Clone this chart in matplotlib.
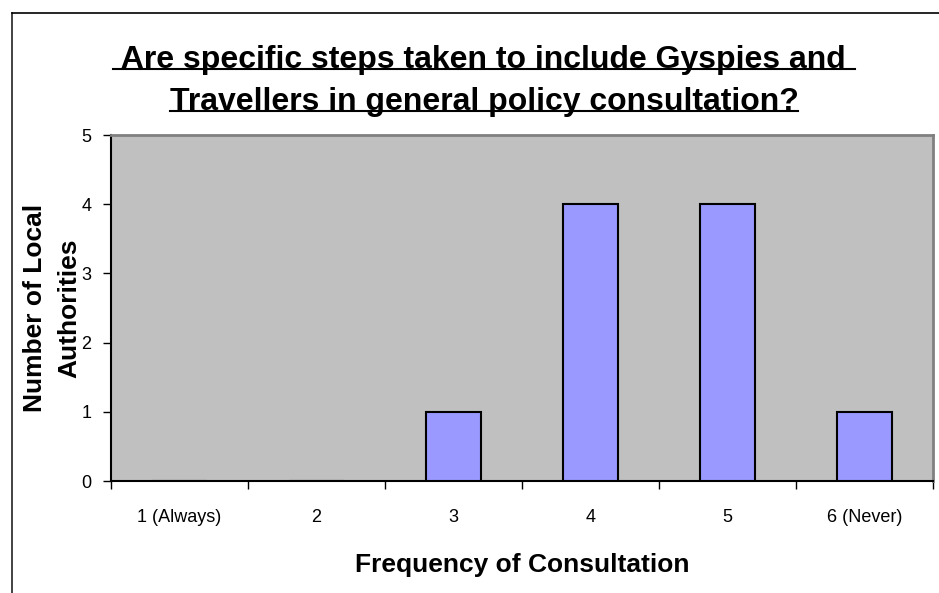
import matplotlib
matplotlib.use('Agg')
import matplotlib.pyplot as plt
from matplotlib.lines import Line2D

# Data
categories = ['1 (Always)', '2', '3', '4', '5', '6 (Never)']
counts = [0, 0, 1, 4, 4, 1]
y_ticks = [0, 1, 2, 3, 4, 5]
title_lines = [' Are specific steps taken to include Gyspies and ',
               'Travellers in general policy consultation?']
x_label = 'Frequency of Consultation'
y_label = 'Number of Local\nAuthorities'

plt.rcParams['font.family'] = ['Liberation Sans', 'DejaVu Sans']

W, H = 939, 593
fig = plt.figure(figsize=(W / 100, H / 100), dpi=100)

# plot area in pixel terms
left, right, top, bottom = 111, 933, 135, 481
ax = fig.add_axes([left / W, 1 - bottom / H, (right - left) / W, (bottom - top) / H])
ax.set_facecolor('#c0c0c0')

xs = list(range(len(categories)))
ax.bar(xs, counts, width=0.4, color='#9999ff', edgecolor='black', linewidth=1.5, zorder=3)

ax.set_xlim(-0.5, len(categories) - 0.5)
ax.set_ylim(0, 5)

# y axis
ax.set_yticks(y_ticks)
ax.tick_params(axis='y', length=6, width=1, pad=8, labelsize=13, direction='out')

# x axis: ticks at boundaries, labels at centres
ax.set_xticks([i - 0.5 for i in range(len(categories) + 1)])
ax.set_xticklabels([])
ax.set_xticks(xs, minor=True)
ax.set_xticklabels(categories, minor=True)
ax.tick_params(axis='x', which='major', length=6, width=1, direction='out')
ax.tick_params(axis='x', which='minor', length=0, pad=20, labelsize=13)

for s in ['left', 'bottom']:
    ax.spines[s].set_color('black')
    ax.spines[s].set_linewidth(1.5)
for s in ['top', 'right']:
    ax.spines[s].set_color('#808080')
    ax.spines[s].set_linewidth(2)

ax.set_xlabel(x_label, fontsize=19, fontweight='bold', va='center')
ax.xaxis.set_label_coords(0.5, (bottom - 565) / (bottom - top))
ax.set_ylabel(y_label, fontsize=19, fontweight='bold', va='center', linespacing=1.55)
ax.yaxis.set_label_coords((52 - left) / (right - left), 0.5)

# title with underline
title_x = 484 / W
baselines = [68, 110]
texts = []
for line, yb in zip(title_lines, baselines):
    t = fig.text(title_x, 1 - yb / H, line, ha='center', va='baseline',
                 fontsize=23, fontweight='bold')
    texts.append((t, yb))

fig.canvas.draw()
renderer = fig.canvas.get_renderer()
for t, yb in texts:
    bb = t.get_window_extent(renderer)
    fig.add_artist(Line2D([bb.x0 / W, bb.x1 / W], [1 - (yb + 1) / H] * 2,
                          transform=fig.transFigure, color='black', linewidth=1.5))

# chart area border (left and top edges visible)
fig.add_artist(Line2D([12 / W, 12 / W], [1 - 13 / H, 0], transform=fig.transFigure,
                      color='#222222', linewidth=1.2))
fig.add_artist(Line2D([12 / W, 1], [1 - 13 / H, 1 - 13 / H], transform=fig.transFigure,
                      color='black', linewidth=1.2))

fig.savefig('out.png', dpi=100)
